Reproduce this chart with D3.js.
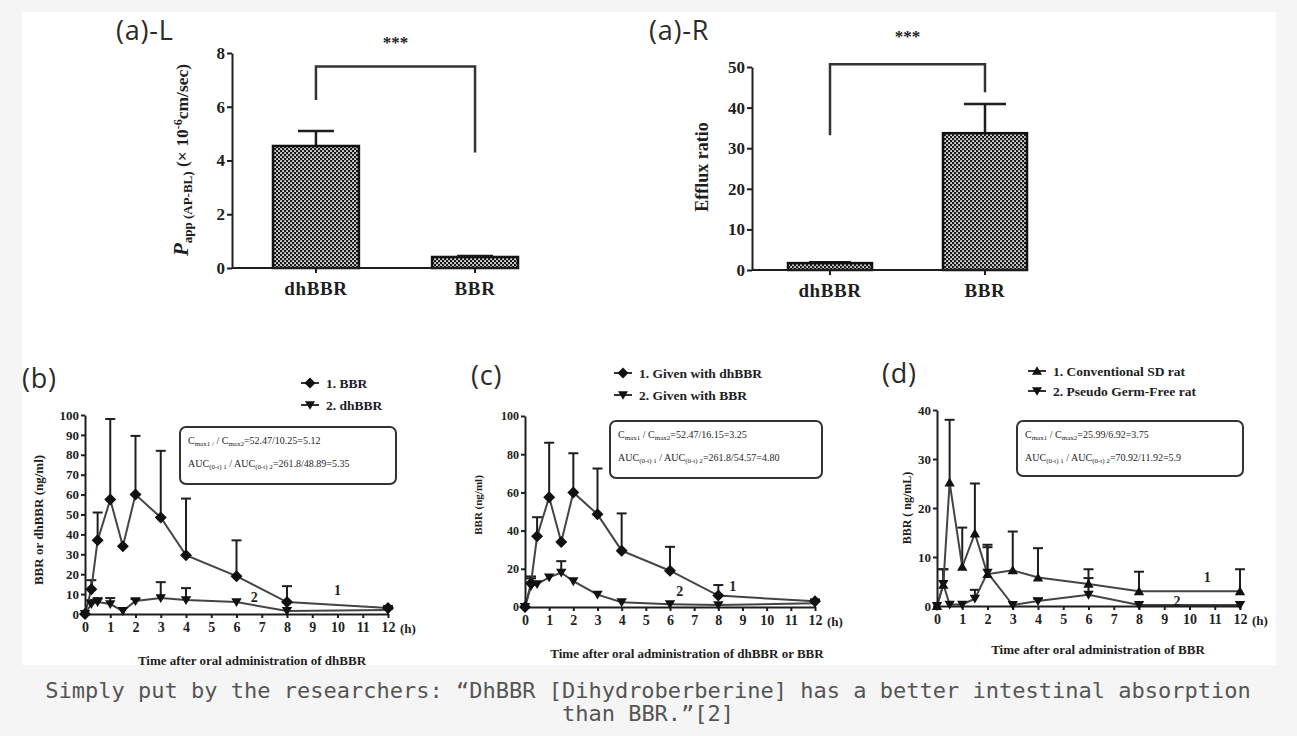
<!DOCTYPE html>
<html><head><meta charset="utf-8">
<script src="https://cdn.jsdelivr.net/npm/d3@7"></script>
<style>
html,body{margin:0;padding:0;background:#f5f5f5;}
svg{display:block;}
</style></head><body>
<svg id="chart" width="1297" height="736"></svg>
<script>
// ---------- DATA ----------
const barCategories = ["dhBBR", "BBR"];
const pappValues = [4.54, 0.41];
const pappErrTop = [5.10, 0.45];
const pappTicks = [0, 2, 4, 6, 8];
const effluxValues = [1.7, 33.7];
const effluxErrTop = [1.9, 40.9];
const effluxTicks = [0, 10, 20, 30, 40, 50];

const timePoints = [0, 0.25, 0.5, 1, 1.5, 2, 3, 4, 6, 8, 12];
const timeTicks = [0, 1, 2, 3, 4, 5, 6, 7, 8, 9, 10, 11, 12];

// (b)
const bBBR = [0, 12.5, 37, 57.5, 34, 60, 48.5, 29.5, 19, 6, 3];
const bBBRErr = [null, 17, 51, 98, null, 89.5, 82, 58, 37, 14, 4];
const bDhBBR = [0, 5, 6, 5, 1.5, 6.5, 8, 7, 6, 1.5, 2];
const bDhBBRErr = [null, 7, 8, 8, null, 7.5, 16, 13, null, null, 2.5];
const bTicksY = [0, 10, 20, 30, 40, 50, 60, 70, 80, 90, 100];

// (c)
const cWithDh = [0, 12.5, 37, 57.5, 34, 60, 48.5, 29.5, 19, 6, 3];
const cWithDhErr = [null, 16, 47, 86, null, 80.5, 72.5, 49, 31.5, 11.5, 4];
const cWithBBR = [0, 11, 12, 15.5, 18, 13.5, 6.5, 2.5, 1.5, 1, 2];
const cWithBBRErr = [null, 15, null, null, 24, null, null, null, null, null, null];
const cTicksY = [0, 20, 40, 60, 80, 100];

// (d)
const dConv = [0, 4.3, 25.2, 8, 14.8, 6.5, 7.3, 5.8, 4.5, 3, 3];
const dConvErr = [null, 7.5, 38, 16, 25, 12, 15.2, 11.8, 7.5, 7, 7.5];
const dPGF = [0, 4.5, 0.3, 0.3, 1.5, 6.8, 0.2, 1, 2.3, 0.2, 0.2];
const dPGFErr = [null, 7.5, null, null, 3.3, 12.5, null, 1.5, 5.7, null, null];
const dTicksY = [0, 10, 20, 30, 40];

// ---------- DRAWING ----------
const svg = d3.select("#chart");
const SERIF = "'Liberation Serif','Times New Roman',serif";
const INK = "#1e1e1e";

const defs = svg.append("defs");
const pat = defs.append("pattern").attr("id", "dots").attr("width", 4).attr("height", 4)
  .attr("patternUnits", "userSpaceOnUse");
pat.append("rect").attr("width", 4).attr("height", 4).attr("fill", "#1a1a1a");
pat.append("rect").attr("x", 0.2).attr("y", 0.2).attr("width", 1.7).attr("height", 1.7).attr("fill", "#fff");
pat.append("rect").attr("x", 2.2).attr("y", 2.2).attr("width", 1.7).attr("height", 1.7).attr("fill", "#fff");

svg.append("rect").attr("x", 22).attr("y", 12).attr("width", 1254).attr("height", 653).attr("fill", "#fff");

function panelLabel(txt, x, y) {
  svg.append("text").attr("x", x).attr("y", y).text(txt)
    .attr("font-family", "'Open Sans',sans-serif").attr("font-size", 27).attr("letter-spacing", 0.8)
    .attr("fill", "#2a2a2a");
}

function styleAxis(sel, fs) {
  sel.selectAll("path,line").attr("stroke", INK).attr("stroke-width", 2);
  sel.selectAll("text").attr("font-family", SERIF).attr("font-weight", "bold")
    .attr("font-size", fs).attr("fill", INK);
}

function barPanel(o) {
  const g = svg.append("g");
  const x = d3.scaleBand().domain(barCategories).range(o.bandRange).paddingInner(o.pad).paddingOuter(0);
  const y = d3.scaleLinear().domain([0, o.ymax]).range(o.yRange);
  const cx = c => x(c) + x.bandwidth() / 2;
  // error bars
  o.errTop.forEach((e, i) => {
    const c = cx(barCategories[i]);
    g.append("line").attr("x1", c).attr("x2", c).attr("y1", y(o.values[i])).attr("y2", y(e))
      .attr("stroke", INK).attr("stroke-width", 2.5);
    g.append("line").attr("x1", c - o.cap).attr("x2", c + o.cap).attr("y1", y(e)).attr("y2", y(e))
      .attr("stroke", INK).attr("stroke-width", 2.5);
  });
  g.selectAll("rect.bar").data(o.values).join("rect").attr("class", "bar")
    .attr("x", (d, i) => x(barCategories[i])).attr("y", d => y(d))
    .attr("width", x.bandwidth()).attr("height", d => y(0) - y(d))
    .attr("fill", "url(#dots)").attr("stroke", "#111").attr("stroke-width", 2.5);
  // y axis
  const ya = g.append("g").attr("transform", `translate(${o.axisX},0)`)
    .call(d3.axisLeft(y).tickValues(o.ticks).tickSize(5).tickSizeOuter(0).tickPadding(2));
  styleAxis(ya, 17);
  // x axis
  g.append("line").attr("x1", o.axisX).attr("x2", o.bandRange[1]).attr("y1", y(0)).attr("y2", y(0))
    .attr("stroke", INK).attr("stroke-width", 2);
  barCategories.forEach(c => {
    g.append("line").attr("x1", cx(c)).attr("x2", cx(c)).attr("y1", y(0)).attr("y2", y(0) + 5)
      .attr("stroke", INK).attr("stroke-width", 2);
    g.append("text").attr("x", cx(c)).attr("y", y(0) + 27).attr("text-anchor", "middle").text(c)
      .attr("font-family", SERIF).attr("font-weight", "bold").attr("font-size", 19).attr("fill", INK)
      .attr("letter-spacing", 0.6);
  });
  // significance bracket
  const c0 = cx(barCategories[0]), c1 = cx(barCategories[1]);
  g.append("path")
    .attr("d", `M${c0},${y(o.sig[1])}V${y(o.sig[0])}H${c1}V${y(o.sig[2])}`)
    .attr("fill", "none").attr("stroke", "#333").attr("stroke-width", 2.5);
  g.append("text").attr("x", (c0 + c1) / 2).attr("y", o.starY).attr("text-anchor", "middle").text("***")
    .attr("font-family", SERIF).attr("font-weight", "bold").attr("font-size", 17).attr("fill", INK);
  return {g, x, y};
}

// (a)-L
panelLabel("(a)-L", 116, 40);
const aL = barPanel({bandRange: [273, 518], pad: 0.46, ymax: 8, yRange: [268, 53], axisX: 232,
  values: pappValues, errTop: pappErrTop, ticks: pappTicks, cap: 18, sig: [7.5, 6.25, 4.3], starY: 48});
{
  const t = svg.append("text").attr("transform", "translate(188,160) rotate(-90)").attr("text-anchor", "middle")
    .attr("font-family", SERIF).attr("font-weight", "bold").attr("font-size", 17.5).attr("fill", INK);
  t.append("tspan").attr("font-style", "italic").attr("font-size", 21).text("P");
  t.append("tspan").attr("dy", 4).attr("font-size", 13).text("app (AP-BL)");
  t.append("tspan").attr("dy", -4).text(" (\u00d7 10");
  t.append("tspan").attr("dy", -6).attr("font-size", 12).text("-6");
  t.append("tspan").attr("dy", 6).text("cm/sec)");
}

// (a)-R
panelLabel("(a)-R", 649, 40);
const aR = barPanel({bandRange: [788, 1027], pad: 0.458, ymax: 50, yRange: [270, 67], axisX: 752,
  values: effluxValues, errTop: effluxErrTop, ticks: effluxTicks, cap: 21, sig: [50.7, 33.2, 43.8], starY: 42});
svg.append("text").attr("transform", "translate(708,167) rotate(-90)").attr("text-anchor", "middle")
  .attr("font-family", SERIF).attr("font-weight", "bold").attr("font-size", 18).attr("fill", INK).text("Efflux ratio");

// line panels
function marker(shape, r) {
  if (shape === "diamond") return `M0,${-r}L${r},0L0,${r}L${-r},0Z`;
  if (shape === "down") return `M${-r},${-r * 0.75}L${r},${-r * 0.75}L0,${r * 0.95}Z`;
  return `M${-r},${r * 0.75}L${r},${r * 0.75}L0,${-r * 0.95}Z`;
}

function linePanel(o) {
  const g = svg.append("g");
  const x = d3.scaleLinear().domain([0, 12]).range(o.xr);
  const y = d3.scaleLinear().domain([0, o.ymax]).range(o.yr);
  // error bars
  o.series.forEach(s => {
    s.values.forEach((v, i) => {
      const e = s.err[i];
      if (e == null) return;
      const px = x(timePoints[i]);
      g.append("line").attr("x1", px).attr("x2", px).attr("y1", y(v)).attr("y2", y(e))
        .attr("stroke", INK).attr("stroke-width", 2);
      g.append("line").attr("x1", px - 5).attr("x2", px + 5).attr("y1", y(e)).attr("y2", y(e))
        .attr("stroke", INK).attr("stroke-width", 2);
    });
  });
  // lines
  o.series.forEach(s => {
    g.append("path").datum(timePoints.map((t, i) => [t, s.values[i]]))
      .attr("d", d3.line().x(d => x(d[0])).y(d => y(d[1])))
      .attr("fill", "none").attr("stroke", "#444").attr("stroke-width", 2);
  });
  // axes
  const ya = g.append("g").attr("transform", `translate(${o.xr[0]},0)`)
    .call(d3.axisLeft(y).tickValues(o.yTicks).tickSize(4).tickSizeOuter(0).tickPadding(2));
  styleAxis(ya, o.yfs);
  const xa = g.append("g").attr("transform", `translate(0,${o.yr[0]})`)
    .call(d3.axisBottom(x).tickValues(timeTicks).tickSize(4).tickSizeOuter(0).tickPadding(4));
  styleAxis(xa, 14);
  g.append("text").attr("x", o.xr[1] + 12).attr("y", o.yr[0] + 19).text("(h)")
    .attr("font-family", SERIF).attr("font-weight", "bold").attr("font-size", 13).attr("fill", INK);
  // markers
  o.series.forEach(s => {
    g.selectAll(null).data(s.values).join("path")
      .attr("transform", (v, i) => `translate(${x(timePoints[i])},${y(v)})`)
      .attr("d", marker(s.shape, s.shape === "diamond" ? 6 : 5.2)).attr("fill", "#111");
  });
  // series number labels
  o.numLabels.forEach(n => {
    g.append("text").attr("x", x(n[1])).attr("y", y(n[2])).attr("text-anchor", "middle").text(n[0])
      .attr("font-family", SERIF).attr("font-weight", "bold").attr("font-size", 14).attr("fill", INK)
      .attr("dominant-baseline", "central");
  });
  // y label
  g.append("text").attr("transform", `translate(${o.yl[0]},${o.yl[1]}) rotate(-90)`).attr("text-anchor", "middle")
    .attr("dominant-baseline", "central").text(o.ylabel)
    .attr("font-family", SERIF).attr("font-weight", "bold").attr("font-size", o.ylfs).attr("fill", INK);
  // x title
  g.append("text").attr("x", o.xt[0]).attr("y", o.xt[1]).attr("text-anchor", "middle").attr("dominant-baseline", "central")
    .text(o.xtitle).attr("font-family", SERIF).attr("font-weight", "bold").attr("font-size", 13).attr("fill", INK);
  // legend
  o.series.forEach((s, i) => {
    const ly = o.leg[1] + i * o.leg[2];
    g.append("line").attr("x1", o.leg[0] - 9).attr("x2", o.leg[0] + 9).attr("y1", ly).attr("y2", ly)
      .attr("stroke", "#333").attr("stroke-width", 2);
    g.append("path").attr("transform", `translate(${o.leg[0]},${ly})`)
      .attr("d", marker(s.shape, s.shape === "diamond" ? 5.5 : 5)).attr("fill", "#111");
    g.append("text").attr("x", o.leg[0] + 16).attr("y", ly).attr("dominant-baseline", "central").text(s.name)
      .attr("font-family", SERIF).attr("font-weight", "bold").attr("font-size", 13.5).attr("fill", INK);
  });
  // box
  const b = o.box;
  g.append("rect").attr("x", b[0]).attr("y", b[1]).attr("width", b[2] - b[0]).attr("height", b[3] - b[1])
    .attr("rx", 6).attr("fill", "#fff").attr("stroke", "#333").attr("stroke-width", 2);
  const t1 = g.append("text").attr("x", b[0] + 8).attr("y", b[1] + 17)
    .attr("font-family", SERIF).attr("font-size", 10).attr("fill", INK);
  t1.append("tspan").text("C");
  t1.append("tspan").attr("dy", 2).attr("font-size", 7).text(o.cSub1);
  t1.append("tspan").attr("dy", -2).text(" / C");
  t1.append("tspan").attr("dy", 2).attr("font-size", 7).text("max2");
  t1.append("tspan").attr("dy", -2).text(o.cText);
  const t2 = g.append("text").attr("x", b[0] + 8).attr("y", b[1] + 40)
    .attr("font-family", SERIF).attr("font-size", 10).attr("fill", INK);
  t2.append("tspan").text("AUC");
  t2.append("tspan").attr("dy", 2).attr("font-size", 7).text("(0-t) 1");
  t2.append("tspan").attr("dy", -2).text(" / AUC");
  t2.append("tspan").attr("dy", 2).attr("font-size", 7).text("(0-t) 2");
  t2.append("tspan").attr("dy", -2).text(o.aucText);
}

panelLabel("(b)", 22, 388);
linePanel({xr: [85, 388], yr: [614, 415], ymax: 100, yTicks: bTicksY, yfs: 13,
  series: [
    {name: "1. BBR", shape: "diamond", values: bBBR, err: bBBRErr},
    {name: "2. dhBBR", shape: "down", values: bDhBBR, err: bDhBBRErr}],
  numLabels: [["1", 10, 12], ["2", 6.7, 8.5]],
  ylabel: "BBR or dhBBR (ng/ml)", yl: [38, 520], ylfs: 13,
  xtitle: "Time after oral administration of dhBBR", xt: [252, 660],
  leg: [310, 383, 22], box: [180, 427, 396, 484],
  cSub1: "max1 /", cText: "=52.47/10.25=5.12", aucText: "=261.8/48.89=5.35"});

panelLabel("(c)", 471, 385);
linePanel({xr: [525, 815], yr: [607, 416], ymax: 100, yTicks: cTicksY, yfs: 12,
  series: [
    {name: "1. Given with dhBBR", shape: "diamond", values: cWithDh, err: cWithDhErr},
    {name: "2. Given with BBR", shape: "down", values: cWithBBR, err: cWithBBRErr}],
  numLabels: [["1", 8.6, 10.5], ["2", 6.4, 8]],
  ylabel: "BBR (ng/ml)", yl: [478, 505], ylfs: 11,
  xtitle: "Time after oral administration of dhBBR or BBR", xt: [687, 653],
  leg: [623, 373, 22], box: [610, 421, 822, 478],
  cSub1: "max1", cText: "=52.47/16.15=3.25", aucText: "=261.8/54.57=4.80"});

panelLabel("(d)", 882, 383);
linePanel({xr: [937, 1240], yr: [606, 410], ymax: 40, yTicks: dTicksY, yfs: 13,
  series: [
    {name: "1. Conventional SD rat", shape: "up", values: dConv, err: dConvErr},
    {name: "2. Pseudo Germ-Free rat", shape: "down", values: dPGF, err: dPGFErr}],
  numLabels: [["1", 10.7, 5.9], ["2", 9.5, 1]],
  ylabel: "BBR ( ng/mL)", yl: [907, 508], ylfs: 12,
  xtitle: "Time after oral administration of BBR", xt: [1098, 649],
  leg: [1037, 371, 20], box: [1017, 421, 1243, 476],
  cSub1: "max1", cText: "=25.99/6.92=3.75", aucText: "=70.92/11.92=5.9"});

// caption
const cap = svg.append("text").attr("text-anchor", "middle")
  .attr("font-family", "'DejaVu Sans Mono',monospace").attr("font-size", 22).attr("fill", "#555");
cap.append("tspan").attr("x", 648).attr("y", 698)
  .text("Simply put by the researchers: \u201cDhBBR [Dihydroberberine] has a better intestinal absorption");
cap.append("tspan").attr("x", 648).attr("y", 721).text("than BBR.\u201d[2]");
</script>
</body></html>
